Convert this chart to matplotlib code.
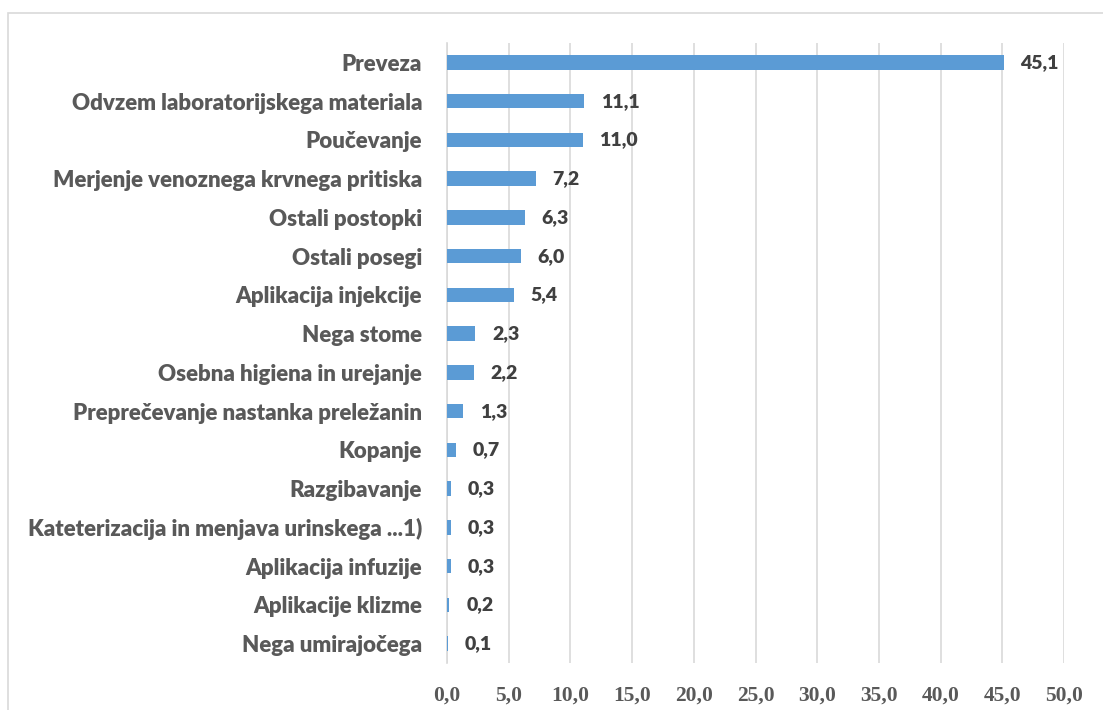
import matplotlib
matplotlib.use('Agg')
import matplotlib.pyplot as plt
import numpy as np

categories = ['Preveza', 'Odvzem laboratorijskega materiala', 'Poučevanje',
              'Merjenje venoznega krvnega pritiska', 'Ostali postopki', 'Ostali posegi',
              'Aplikacija injekcije', 'Nega stome', 'Osebna higiena in urejanje',
              'Preprečevanje nastanka preležanin', 'Kopanje', 'Razgibavanje',
              'Kateterizacija in menjava urinskega ...1)', 'Aplikacija infuzije',
              'Aplikacije klizme', 'Nega umirajočega']
values = [45.1, 11.1, 11.0, 7.2, 6.3, 6.0, 5.4, 2.3, 2.2, 1.3, 0.7, 0.3, 0.3, 0.3, 0.2, 0.1]
xticks = [0, 5, 10, 15, 20, 25, 30, 35, 40, 45, 50]

fig = plt.figure(figsize=(11.03, 7.10), dpi=100)
# outer chart border
fig.patches.append(plt.Rectangle((8/1103, -0.01), 1.1, 1 - 13/710 + 0.01, transform=fig.transFigure,
                                 fill=False, edgecolor='#d9d9d9', linewidth=1.2))
ax = fig.add_axes([447/1103, 1 - 663/710, (1064 - 447)/1103, (663 - 43)/710])

y = np.arange(len(categories))
ax.barh(y, values, height=0.37, color='#5B9BD5', zorder=3)
ax.set_ylim(len(categories) - 0.5, -0.5)
ax.set_xlim(0, 50)

for yi, v in zip(y, values):
    ax.text(v + 1.35, yi, ('%.1f' % v).replace('.', ','), va='center', ha='left',
            fontsize=14, fontweight='heavy', color='#404040', family='Lato')

ax.set_yticks(y)
ax.set_yticklabels(categories, fontsize=16, fontweight='heavy', color='#595959', family='Lato')
ax.set_xticks(xticks)
ax.set_xticklabels([('%.1f' % t).replace('.', ',') for t in xticks], fontsize=15.5,
                   fontweight='bold', color='#595959', family='Liberation Serif')
ax.tick_params(axis='y', length=0, pad=18)
ax.tick_params(axis='x', length=0, pad=16)
ax.grid(axis='x', color='#d9d9d9', linewidth=1.2, zorder=0)
for s in ['top', 'right', 'bottom']:
    ax.spines[s].set_visible(False)
ax.spines['left'].set_color('#d9d9d9')
ax.spines['left'].set_linewidth(1.2)

fig.savefig('out.png', dpi=100)
